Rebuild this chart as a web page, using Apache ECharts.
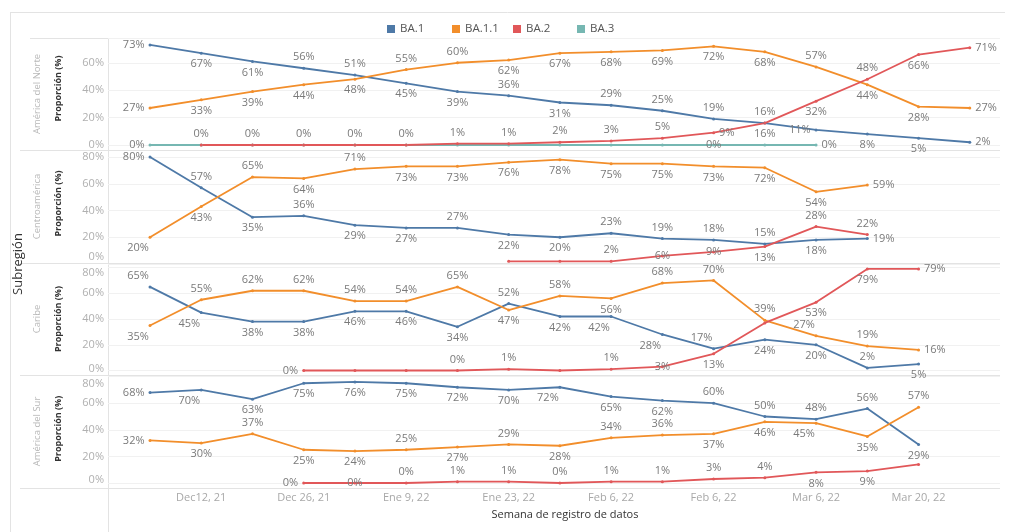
<!DOCTYPE html>
<html><head><meta charset="utf-8">
<script src="https://cdn.jsdelivr.net/npm/echarts@6/dist/echarts.min.js"></script>
<style>html,body{margin:0;padding:0;background:#fff}#c{width:1009px;height:532px}</style>
</head><body><div id="c"></div>
<script>
// ---------- data ----------
const weeks = ['2021-12-05','2021-12-12','2021-12-19','2021-12-26','2022-01-02','2022-01-09','2022-01-16','2022-01-23','2022-01-30','2022-02-06','2022-02-13','2022-02-20','2022-02-27','2022-03-06','2022-03-13','2022-03-20','2022-03-27'];
const tickLabels = ['Dec12, 21','Dec 26, 21','Ene 9, 22','Ene 23, 22','Feb 6, 22','Feb 6, 22','Mar 6, 22','Mar 20, 22'];
const tickWeekIdx = [1,3,5,7,9,11,13,15];
const lineages = ['BA.1','BA.1.1','BA.2','BA.3'];
const subregions = ['América del Norte','Centroamérica','Caribe','América del Sur'];
const yTicks = [0,20,40,60,80];

const norteBA1  = [73,67,61,56,51,45,39,36,31,29,25,19,16,11,8,5,2];
const norteBA11 = [27,33,39,44,48,55,60,62,67,68,69,72,68,57,44,28,27];
const norteBA2  = [null,0,0,0,0,0,1,1,2,3,5,9,16,32,48,66,71];
const norteBA3  = [0,0,0,0,0,0,0,0,0,0,0,0,0,0,null,null,null];

const centroBA1  = [80,57,35,36,29,27,27,22,20,23,19,18,15,18,19,null,null];
const centroBA11 = [20,43,65,64,71,73,73,76,78,75,75,73,72,54,59,null,null];
const centroBA2  = [null,null,null,null,null,null,null,2,2,2,6,9,13,28,22,null,null];

const caribeBA1  = [65,45,38,38,46,46,34,52,42,42,28,17,24,20,2,5,null];
const caribeBA11 = [35,55,62,62,54,54,65,47,58,56,68,70,39,27,19,16,null];
const caribeBA2  = [null,null,null,0,0,0,0,1,0,1,3,13,37,53,79,79,null];

const surBA1  = [68,70,63,75,76,75,72,70,72,65,62,60,50,48,56,29,null];
const surBA11 = [32,30,37,25,24,25,27,29,28,34,36,37,46,45,35,57,null];
const surBA2  = [null,null,null,0,0,0,1,1,0,1,1,3,4,8,9,14,null];

// ---------- layout / style ----------
const FONT = '"Open Sans", "DejaVu Sans", sans-serif';
const COLORS = {'BA.1':'#4e79a7','BA.1.1':'#f28e2b','BA.2':'#e15759','BA.3':'#76b7b2'};
const panes = [
  {top:38.1, zero:145,   max:78, nameShift:6},
  {top:157,  zero:264,   max:80, nameShift:14},
  {top:267.6,zero:370.5, max:80, nameShift:0},
  {top:376.6,zero:483,   max:80, nameShift:2}
];
const tickShift = [{}, {0:'u7'}, {80:'d5', 0:'u2'}, {80:'d7', 0:'u3'}];
// label placement codes per point: t top, b bottom, l left, r right, c centre, T/B top/bottom-left, - hidden
const panelSeries = [
  [['BA.3', norteBA3, 'l----------c-r...'], ['BA.1', norteBA1, 'lbbttbbtbttttlbbr'], ['BA.1.1', norteBA11, 'lbbbbttbbbbbbtbbr'], ['BA.2', norteBA2, '.ttttttttttrbbtbr']],
  [['BA.1', centroBA1, 'ltbtbbtbbttttbr..'], ['BA.1.1', centroBA11, 'Bbtbtbbbbbbbbbr..'], ['BA.2', centroBA2, '.......--tccbtt..']],
  [['BA.1', caribeBA1, 'TBbbbbbtbBBTbbtb.'], ['BA.1.1', caribeBA11, 'BttttttbtbtttTtr.'], ['BA.2', caribeBA2, '...l--tt-tcb-bbr.']],
  [['BA.1', surBA1, 'lBbbbbbbBbbttttb.'], ['BA.1.1', surBA11, 'lbtbbtbtbttbbBbt.'], ['BA.2', surBA2, '...lcttttttttbb.']]
];
const POS = {
  t:{position:'top'}, b:{position:'bottom'}, l:{position:'left'}, r:{position:'right'},
  c:{position:'inside'}, T:{position:'top', offset:[-12,0]}, B:{position:'bottom', offset:[-12,0]}
};
const tickStyle = {color:'#b0b0b0', fontSize:11, fontFamily:FONT};
const rich = {};
[2,3,5,7].forEach(n => {
  rich['u'+n] = Object.assign({padding:[0,0,2*n,0]}, tickStyle);
  rich['d'+n] = Object.assign({padding:[2*n,0,0,0]}, tickStyle);
});

const grids = [], xAxes = [], yAxes = [], series = [];
panes.forEach((p, gi) => {
  grids.push({left:108, right:9, top:p.top, height:p.zero - p.top});
  const last = gi === panes.length - 1;
  xAxes.push({
    gridIndex:gi, type:'value', min:-0.82, max:16.59,
    axisLine:{show:false}, axisTick:{show:false}, splitLine:{show:false},
    axisLabel: last ? {
      show:true, customValues:tickWeekIdx, margin:9, color:'#a8a8a8', fontSize:11, fontFamily:FONT,
      formatter: v => tickLabels[tickWeekIdx.indexOf(Math.round(v))] || ''
    } : {show:false},
    name: last ? 'Semana de registro de datos' : '',
    nameLocation:'middle', nameGap:26,
    nameTextStyle:{color:'#333', fontSize:11, fontFamily:FONT, padding:[0,0,0,22]}
  });
  yAxes.push({
    gridIndex:gi, type:'value', min:0, max:p.max, interval:20,
    axisLine:{show:false}, axisTick:{show:false},
    splitLine:{show:true, lineStyle:{color:'#f1f1f1', width:1}},
    axisLabel:{
      show:true, margin:4, showMaxLabel: gi !== 0, showMinLabel:true,
      color:tickStyle.color, fontSize:tickStyle.fontSize, fontFamily:FONT, rich:rich,
      formatter: v => {
        if (yTicks.indexOf(v) < 0) return '';
        const s = tickShift[gi][v];
        return s ? '{' + s + '|' + v + '%}' : v + '%';
      }
    },
    name:'Proporción (%)', nameLocation:'middle', nameGap:45, nameRotate:90,
    nameTextStyle:{color:'#333', fontSize:9, fontWeight:'bold', fontFamily:FONT, padding:[0,0,0,p.nameShift]}
  });
  panelSeries[gi].forEach(([name, vals, codes]) => {
    const data = [];
    vals.forEach((v, i) => {
      if (v === null) return;
      const c = codes[i];
      const item = {value:[i, v]};
      item.label = (c === '-' || c === '.') ? {show:false} : Object.assign({show:true}, POS[c]);
      data.push(item);
    });
    series.push({
      type:'line', name, xAxisIndex:gi, yAxisIndex:gi, data,
      symbol:'circle', symbolSize:3, showSymbol:true, clip:false,
      lineStyle:{width:1.8, color:COLORS[name]}, itemStyle:{color:COLORS[name]},
      label:{show:true, formatter:q => q.value[1] + '%', color:'#7a7a7a', fontSize:11, fontFamily:FONT, distance:4},
      emphasis:{disabled:true}, animation:false
    });
  });
});

const LINE = '#e3e3e3';
const graphic = [
  {type:'line', silent:true, shape:{x1:10, y1:12.5, x2:1005, y2:12.5}, style:{stroke:LINE, lineWidth:1}},
  {type:'line', silent:true, shape:{x1:10.5, y1:12, x2:10.5, y2:532}, style:{stroke:LINE, lineWidth:1}},
  {type:'line', silent:true, shape:{x1:108.5, y1:38, x2:108.5, y2:532}, style:{stroke:LINE, lineWidth:1}},
  {type:'line', silent:true, shape:{x1:30, y1:38.5, x2:1000, y2:38.5}, style:{stroke:LINE, lineWidth:1}}
];
[150.5, 263.5, 375.5, 488.5].forEach(y => graphic.push(
  {type:'line', silent:true, shape:{x1:20, y1:y, x2:1000, y2:y}, style:{stroke:LINE, lineWidth:1}}
));
const rowCenters = [94, 206.5, 319, 431.5];
subregions.forEach((s, i) => graphic.push({
  type:'text', silent:true, x:37, y:rowCenters[i], rotation:Math.PI/2,
  style:{text:s, fill:'#b8b8b8', fontSize:9.5, fontFamily:FONT, textAlign:'center', textVerticalAlign:'middle', align:'center', verticalAlign:'middle'}
}));
graphic.push({
  type:'text', silent:true, x:18, y:264, rotation:Math.PI/2,
  style:{text:'Subregión', fill:'#333', fontSize:13, fontFamily:FONT, textAlign:'center', textVerticalAlign:'middle', align:'center', verticalAlign:'middle'}
});

const legendLeft = [387, 452, 513, 577];
const legends = lineages.map((n, k) => ({
  data:[n], left:legendLeft[k], top:23, padding:0, icon:'rect', itemWidth:8, itemHeight:8,
  textStyle:{color:'#555', fontSize:11.5, fontFamily:FONT}
}));

const chart = echarts.init(document.getElementById('c'), null, {renderer:'canvas'});
chart.setOption({
  animation:false,
  textStyle:{fontFamily:FONT},
  legend:legends,
  grid:grids, xAxis:xAxes, yAxis:yAxes, series, graphic
});
</script></body></html>
